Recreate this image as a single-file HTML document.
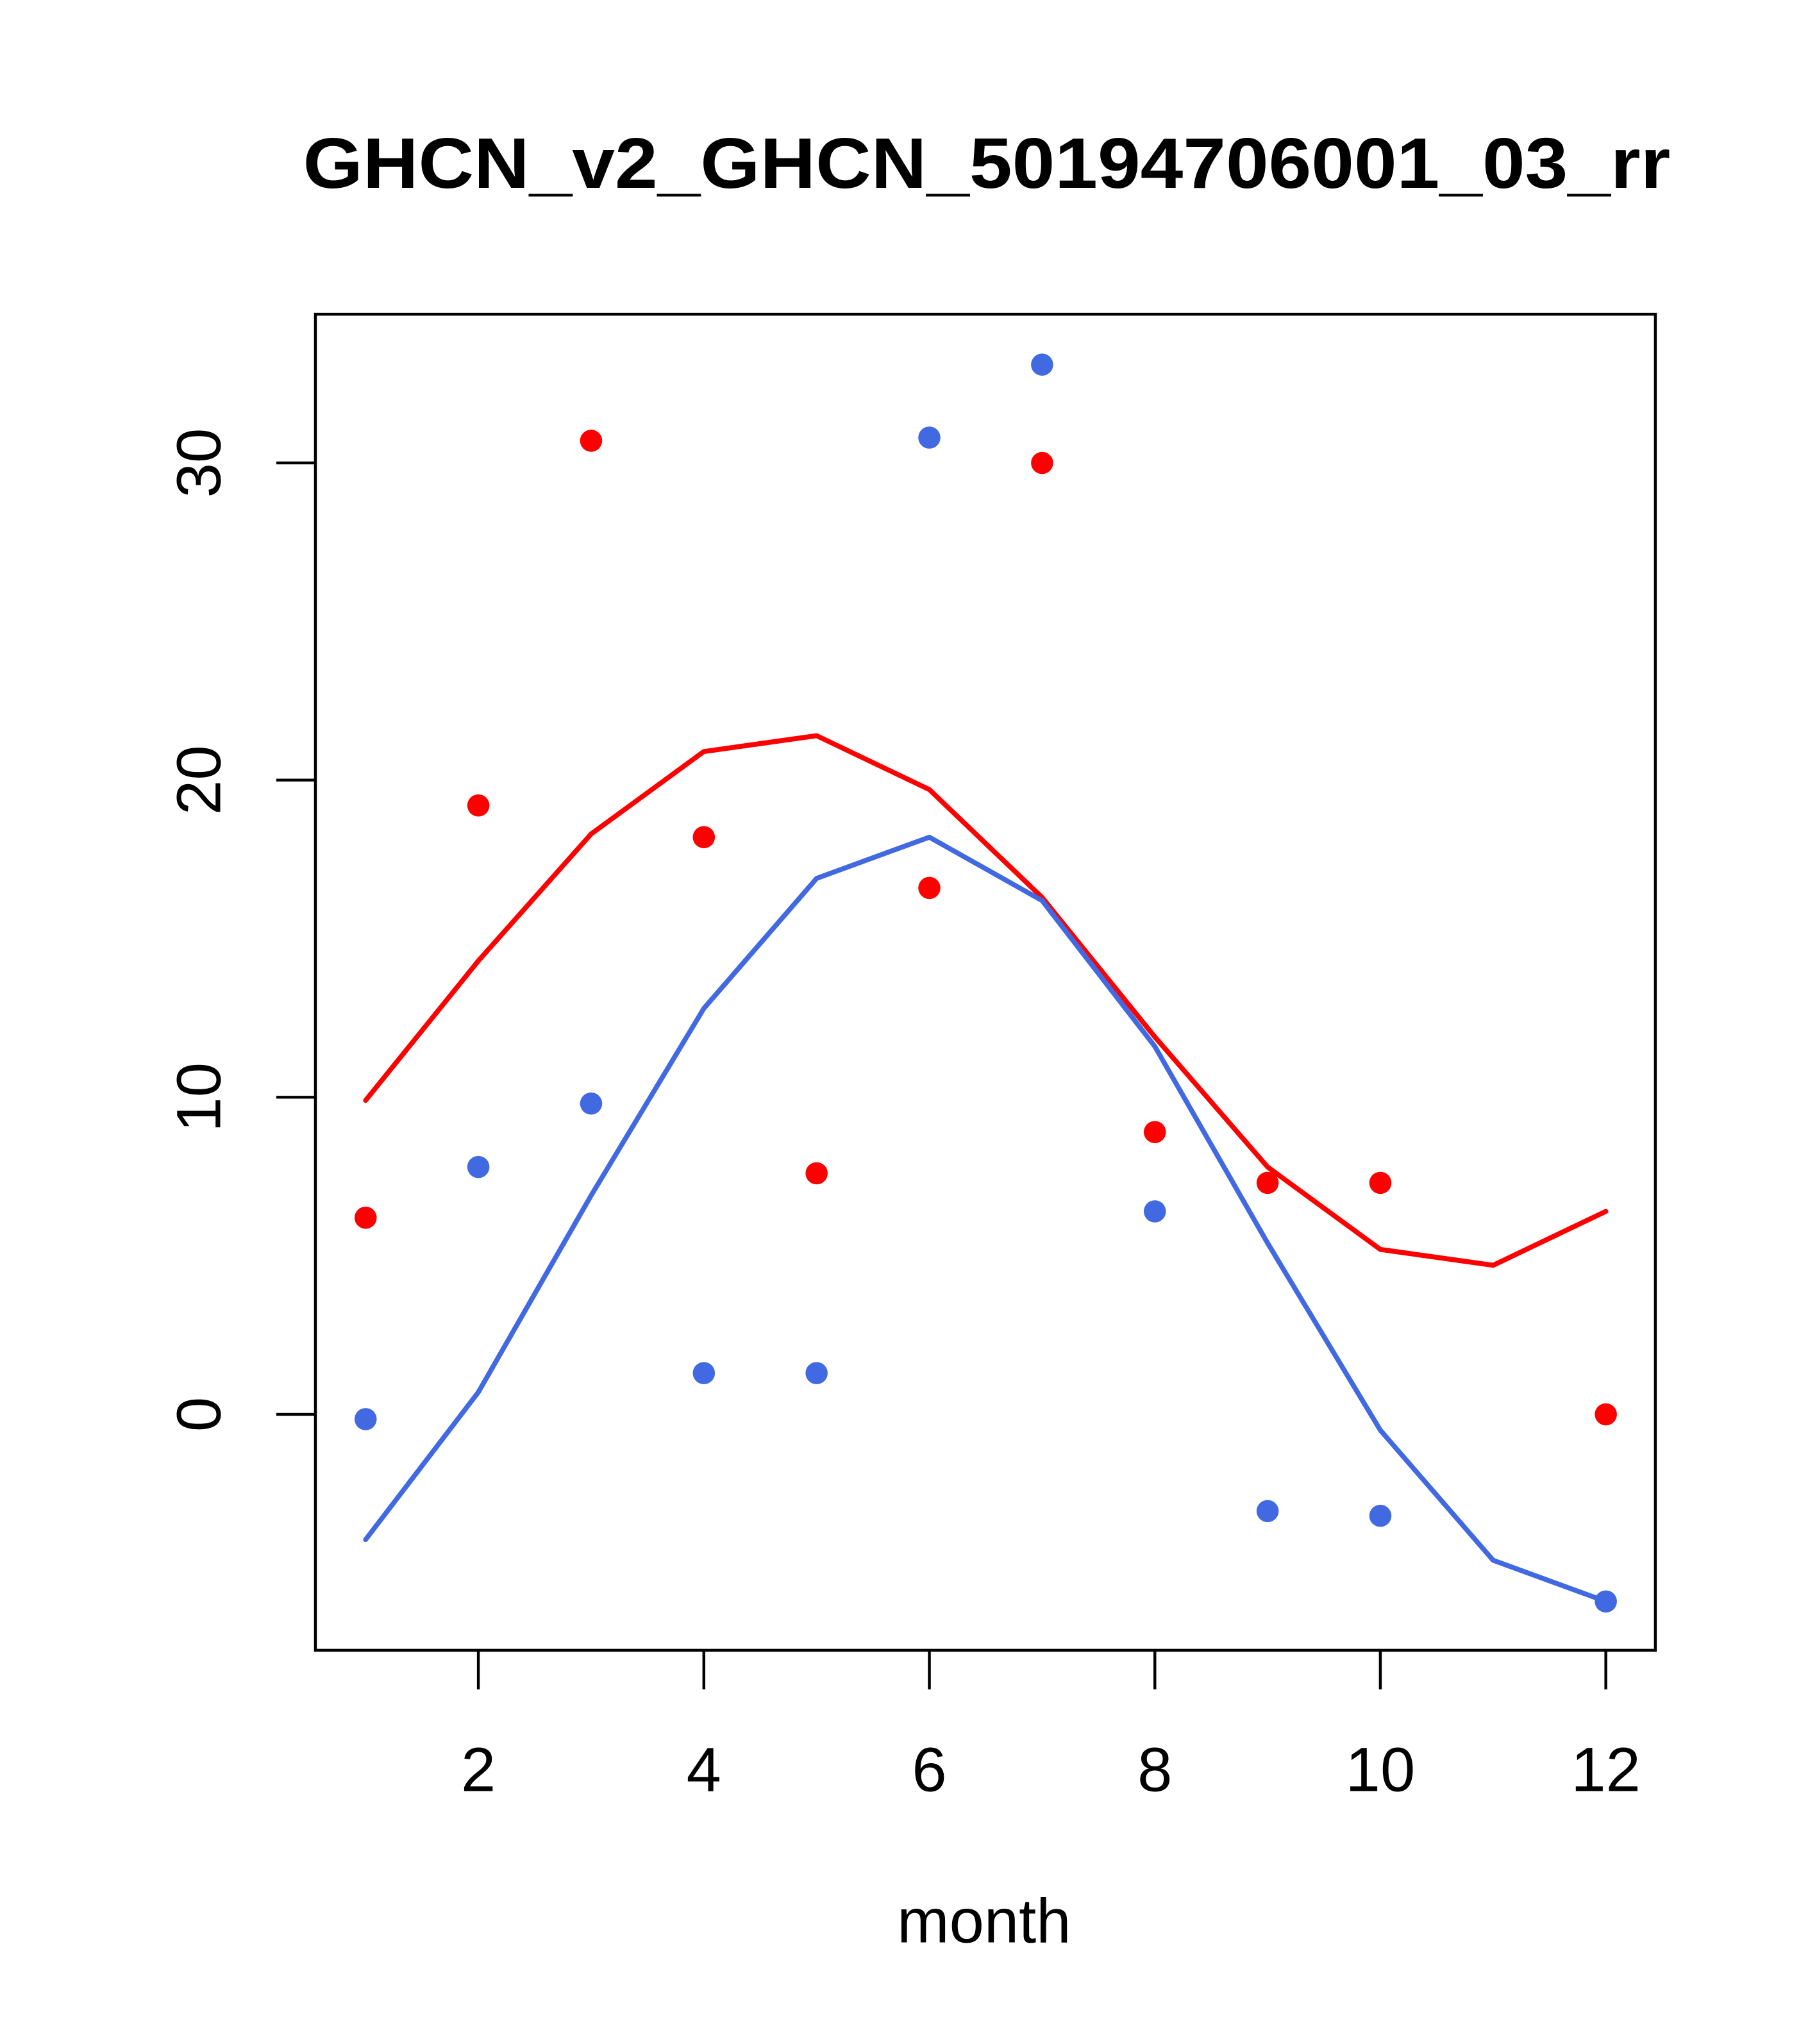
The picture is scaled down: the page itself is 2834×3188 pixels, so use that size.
<!DOCTYPE html>
<html><head><meta charset="utf-8"><style>html,body{margin:0;padding:0;background:#fff}svg{display:block}</style></head>
<body>
<svg id="chart" width="2834" height="3188" viewBox="0 0 1394 1568" xmlns="http://www.w3.org/2000/svg" font-family="Liberation Sans, sans-serif">
<rect width="1394" height="1568" fill="#fff"/>
<text x="757" y="144" font-size="55" font-weight="bold" text-anchor="middle" textLength="1049" lengthAdjust="spacingAndGlyphs">GHCN_v2_GHCN_50194706001_03_rr</text>
<rect x="242" y="241" width="1028" height="1025" fill="none" stroke="#000" stroke-width="2.2"/>
<text x="755" y="1490" font-size="48" text-anchor="middle">month</text>
<g id="marks"></g>
</svg>
<script>
const months = [1,2,3,4,5,6,7,8,9,10,11,12];
const redLine = [9.9,14.3,18.3,20.9,21.4,19.7,16.3,11.9,7.8,5.2,4.7,6.4];
const blueLine = [-3.95,0.7,6.9,12.8,16.9,18.2,16.2,11.6,5.4,-0.5,-4.6,-5.9];
const redPoints = [6.2,19.2,30.7,18.2,7.6,16.6,30.0,8.9,7.3,7.3,null,0.0];
const bluePoints = [-0.15,7.8,9.8,1.3,1.3,30.8,33.1,6.4,-3.05,-3.2,null,-5.9];
const xTicks = [2,4,6,8,10,12];
const yTicks = [0,10,20,30];

const NS = 'http://www.w3.org/2000/svg';
function xs(m){ return 367 + (m-2)*86.5; }
function ys(v){ return 1085 - v*24.33; }
const g = document.getElementById('marks');
function mk(tag, attrs){ const e=document.createElementNS(NS,tag); for(const k in attrs) e.setAttribute(k,attrs[k]); return e; }

xTicks.forEach(t=>{
  const l = mk('line',{x1:xs(t),x2:xs(t),y1:1266,y2:1296,stroke:'#000','stroke-width':2.2});
  
  
  g.appendChild(l);
  const tx = mk('text',{x:xs(t),y:1374,'font-size':48,'text-anchor':'middle'});
  tx.textContent = t;
  
  
  g.appendChild(tx);
});
yTicks.forEach(t=>{
  const l = mk('line',{x1:212,x2:242,y1:ys(t),y2:ys(t),stroke:'#000','stroke-width':2.2});
  
  
  g.appendChild(l);
  const tx = mk('text',{x:0,y:0,'font-size':48,'text-anchor':'middle',transform:`translate(169,${ys(t)}) rotate(-90)`});
  tx.textContent = t;
  
  
  g.appendChild(tx);
});
function line(vals,color,name){
  const p = mk('polyline',{points:vals.map((v,i)=>xs(months[i])+','+ys(v)).join(' '),fill:'none',stroke:color,'stroke-width':3.8,'stroke-linejoin':'round','stroke-linecap':'round'});
  
  
  g.appendChild(p);
}
function pts(vals,color,name){
  vals.forEach((v,i)=>{
    if(v===null) return;
    const c = mk('circle',{cx:xs(months[i]),cy:ys(v),r:8.5,fill:color});
    
    
    g.appendChild(c);
  });
}
line(redLine,'#ff0000','red-line');
line(blueLine,'#4169e1','blue-line');
pts(redPoints,'#ff0000','red-point');
pts(bluePoints,'#4169e1','blue-point');
</script>
</body></html>
